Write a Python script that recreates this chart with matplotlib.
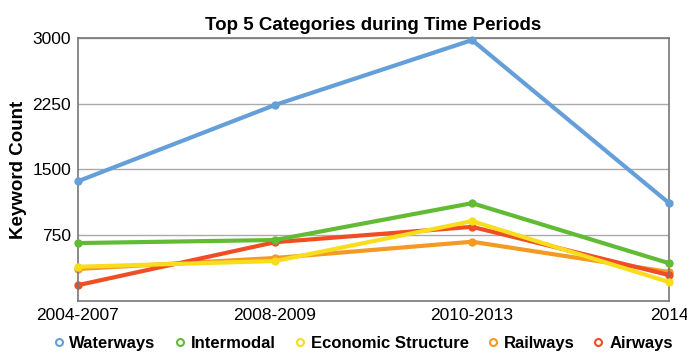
import matplotlib
matplotlib.use("Agg")
import matplotlib.pyplot as plt
from matplotlib.lines import Line2D

plt.rcParams['font.family'] = ['Liberation Sans', 'DejaVu Sans']

periods = ["2004-2007", "2008-2009", "2010-2013", "2014"]
waterways = [1365, 2235, 2975, 1115]
intermodal = [660, 695, 1115, 430]
economic = [390, 455, 910, 215]
railways = [365, 490, 675, 330]
airways = [180, 670, 845, 295]

names = ["Waterways", "Intermodal", "Economic Structure", "Railways", "Airways"]
colors = ["#659fd9", "#62bb35", "#f7dd1c", "#f29a21", "#ef4e25"]
series = [waterways, intermodal, economic, railways, airways]

fig = plt.figure(figsize=(6.87, 3.57), dpi=100)
ax = fig.add_axes([0.1135, 0.157, 0.8605, 0.737])

x = list(range(len(periods)))
zs = [5, 4, 3, 1, 2]
for vals, c, z in zip(series, colors, zs):
    ax.plot(x, vals, color=c, lw=3, marker='o', ms=5, zorder=z, clip_on=False)

ax.set_xlim(0, 3)
ax.set_ylim(0, 3000)
ax.set_yticks([750, 1500, 2250, 3000])
ax.set_xticks(x)
ax.set_xticklabels(periods)
ax.tick_params(length=0, labelsize=12.5, pad=5)
ax.grid(axis='y', color='#aaaaaa', lw=1)
ax.set_axisbelow(True)
for s in ax.spines.values():
    s.set_color('#777777')
    s.set_linewidth(1.2)

ax.set_ylabel("Keyword Count", fontsize=13.5, fontweight='bold', labelpad=4)
ax.set_title("Top 5 Categories during Time Periods", fontsize=13.5, fontweight='bold', pad=6)

handles = [Line2D([], [], ls='none', marker='o', ms=5, mfc='white', mec=c, mew=1.5) for c in colors]
fig.legend(handles, names, loc='lower center', ncol=5, frameon=False,
           bbox_to_anchor=(0.525, -0.025), handletextpad=0.05, handlelength=1.2,
           columnspacing=0.85, prop={'weight': 'bold', 'size': 12})

fig.savefig("out.png", dpi=100)
